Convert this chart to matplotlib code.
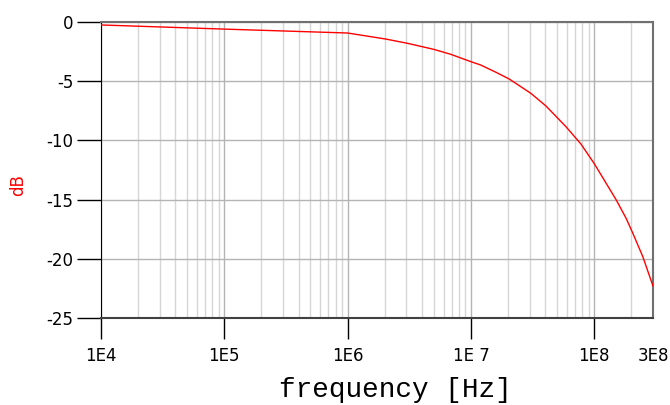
import matplotlib.pyplot as plt
from matplotlib.ticker import FixedLocator, NullFormatter

# frequency response
freq = [1e4, 1e5, 1e6, 2.04e6, 3.06e6, 5.0e6, 6.87e6, 1.0e7, 1.2e7, 1.6e7,
        2.05e7, 3.08e7, 4.07e7, 5.9e7, 7.8e7, 1.0e8, 1.51e8, 1.82e8,
        2.06e8, 2.48e8, 3.0e8]
db = [-0.25, -0.6, -0.93, -1.44, -1.8, -2.31, -2.73, -3.35, -3.63, -4.25,
      -4.82, -6.04, -7.1, -8.84, -10.3, -11.95, -15.03, -16.6,
      -17.85, -19.82, -22.3]

xticks = [1e4, 1e5, 1e6, 1e7, 1e8, 3e8]
xticklabels = ['1E4', '1E5', '1E6', '1E 7', '1E8', '3E8']
yticks = [0, -5, -10, -15, -20, -25]

fig = plt.figure(figsize=(6.7, 4.05), dpi=100)
ax = fig.add_axes([101 / 670, 1 - 318 / 405, 552 / 670, 296 / 405])

ax.plot(freq, db, color='#ff0000', lw=1.0, zorder=3)
ax.set_xscale('log')
ax.set_xlim(1e4, 3e8)
ax.set_ylim(-25, 0)

# grid: decades + 2..9 minors
minors = [m * 10 ** e for e in range(4, 9) for m in range(2, 10) if m * 10 ** e < 3e8]
ax.xaxis.set_minor_locator(FixedLocator(minors))
ax.xaxis.set_minor_formatter(NullFormatter())
ax.set_xticks(xticks)
ax.set_xticklabels(xticklabels)
ax.set_yticks(yticks)
ax.set_yticklabels([str(v) for v in yticks])
ax.grid(True, which='major', color='#b4b4b4', lw=1.0)
ax.grid(True, which='minor', axis='x', color='#d6d6d6', lw=1.0)

ax.tick_params(axis='x', which='major', length=15, width=1, color='black',
               labelsize=12, pad=6)
ax.tick_params(axis='x', which='minor', length=0)
ax.tick_params(axis='y', length=17, width=1, color='black', labelsize=12, pad=3)
# no tick mark at 3E8, only the label
ax.xaxis.get_major_ticks()[-1].tick1line.set_visible(False)

ax.spines['left'].set_color('black')
ax.spines['bottom'].set_color('#404040')
ax.spines['bottom'].set_linewidth(1.5)
ax.spines['top'].set_color('#707070')
ax.spines['top'].set_linewidth(1.5)
ax.spines['right'].set_color('#707070')
ax.spines['right'].set_linewidth(1.5)

fig.text(18 / 670, 1 - 185 / 405, 'dB', color='#ff0000', fontsize=12,
         rotation=90, ha='center', va='center')
fig.text(395 / 670, 1 - 390 / 405, 'frequency [Hz]', fontsize=20,
         family='Liberation Mono', ha='center', va='center')

fig.savefig('out.png', dpi=100)
